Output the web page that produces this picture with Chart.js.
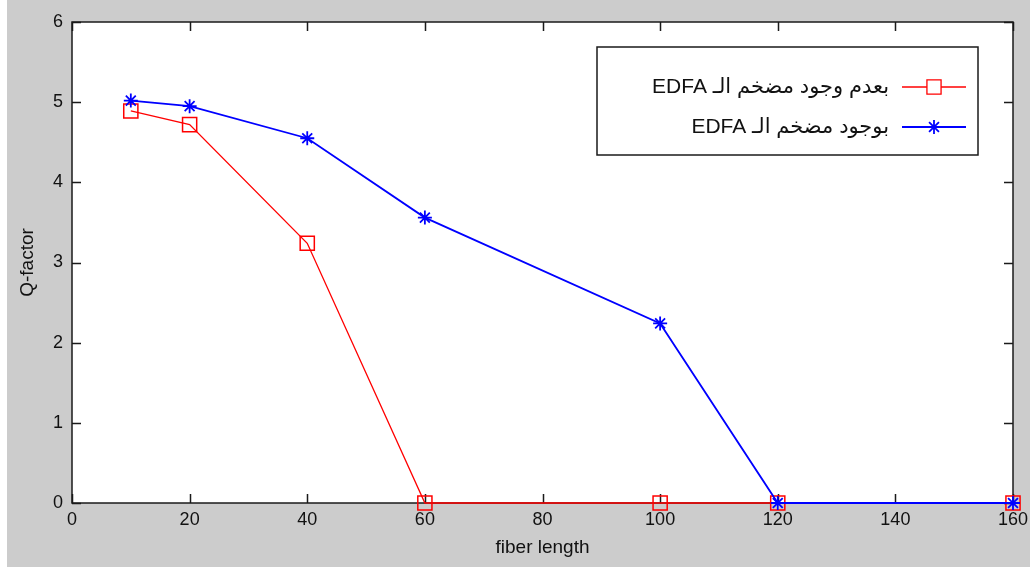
<!DOCTYPE html>
<html>
<head>
<meta charset="utf-8">
<script src="https://cdn.jsdelivr.net/npm/chart.js@4.4.0/dist/chart.umd.min.js"></script>
<style>
  html, body { margin: 0; padding: 0; background: #cccccc; }
  canvas { display: block; }
</style>
</head>
<body>
<canvas id="chart" width="1030" height="567"></canvas>
<script>
// data
const fiberLength = [10, 20, 40, 60, 100, 120, 160];
const qWithoutEdfa = [4.89, 4.72, 3.24, 0, 0, 0, 0];
const qWithEdfa = [5.02, 4.95, 4.55, 3.56, 2.24, 0, 0];
const xTicks = [0, 20, 40, 60, 80, 100, 120, 140, 160];
const yTicks = [0, 1, 2, 3, 4, 5, 6];
const seriesLabels = ['بعدم وجود مضخم الـ EDFA', 'بوجود مضخم الـ EDFA'];

const toPoints = (ys) => fiberLength.map((x, i) => ({ x: x, y: ys[i] }));

// gray figure, white axes area
const background = {
    id: 'background',
    beforeDraw(chart) {
        const { ctx, chartArea: a, width, height } = chart;
        ctx.save();
        ctx.fillStyle = '#cccccc';
        ctx.fillRect(0, 0, width, height);
        ctx.fillStyle = '#ffffff';
        ctx.fillRect(0, 0, 7, height);
        ctx.fillRect(a.left, a.top, a.right - a.left, a.bottom - a.top);
        ctx.restore();
    }
};

// matlab style box with inward ticks on all sides
const axesBox = {
    id: 'axesBox',
    beforeDatasetsDraw(chart) {
        const { ctx, chartArea: a, scales } = chart;
        const len = 9;
        ctx.save();
        ctx.strokeStyle = '#1a1a1a';
        ctx.lineWidth = 1.5;
        ctx.beginPath();
        xTicks.forEach(v => {
            const px = Math.round(scales.x.getPixelForValue(v)) + 0.5;
            ctx.moveTo(px, a.bottom); ctx.lineTo(px, a.bottom - len);
            ctx.moveTo(px, a.top); ctx.lineTo(px, a.top + len);
        });
        yTicks.forEach(v => {
            const py = Math.round(scales.y.getPixelForValue(v)) + 0.5;
            ctx.moveTo(a.left, py); ctx.lineTo(a.left + len, py);
            ctx.moveTo(a.right, py); ctx.lineTo(a.right - len, py);
        });
        ctx.stroke();
        ctx.strokeRect(a.left, a.top, a.right - a.left, a.bottom - a.top);
        ctx.restore();
    }
};

// legend box drawn by hand, top right inside the axes
const boxLegend = {
    id: 'boxLegend',
    afterDraw(chart) {
        const { ctx } = chart;
        const box = { left: 597, top: 47, right: 978, bottom: 155 };
        const rows = [87, 127];
        const legendOrder = [0, 1];
        ctx.save();
        ctx.fillStyle = '#ffffff';
        ctx.fillRect(box.left, box.top, box.right - box.left, box.bottom - box.top);
        ctx.strokeStyle = '#1a1a1a';
        ctx.lineWidth = 1.5;
        ctx.strokeRect(box.left, box.top, box.right - box.left, box.bottom - box.top);
        legendOrder.forEach((di, r) => {
            const ds = chart.data.datasets[di];
            const y = rows[r];
            ctx.strokeStyle = ds.borderColor;
            ctx.lineWidth = ds.borderWidth;
            ctx.beginPath();
            ctx.moveTo(902, y); ctx.lineTo(966, y);
            ctx.stroke();
            Chart.helpers.drawPoint(ctx, {
                pointStyle: ds.pointStyle,
                radius: ds.pointRadius,
                borderWidth: ds.pointBorderWidth
            }, 934, y);
            ctx.fillStyle = '#111111';
            ctx.font = '21px "Liberation Sans", "DejaVu Sans", sans-serif';
            ctx.direction = 'rtl';
            ctx.textAlign = 'right';
            ctx.textBaseline = 'middle';
            ctx.fillText(ds.label, 889, y);
        });
        ctx.restore();
    }
};

const ctx = document.getElementById('chart').getContext('2d');
const qChart = new Chart(ctx, {
    type: 'line',
    data: {
        datasets: [{
            label: seriesLabels[0],
            data: toPoints(qWithoutEdfa),
            borderColor: '#ff0000',
            backgroundColor: 'rgba(0,0,0,0)',
            borderWidth: 1.3,
            pointStyle: 'rect',
            pointRadius: 10,
            pointHoverRadius: 10,
            pointBorderWidth: 1.5,
            pointBorderColor: '#ff0000',
            pointBackgroundColor: 'rgba(0,0,0,0)',
            tension: 0,
            clip: false,
            order: 1
        }, {
            label: seriesLabels[1],
            data: toPoints(qWithEdfa),
            borderColor: '#0000ff',
            backgroundColor: 'rgba(0,0,0,0)',
            borderWidth: 1.8,
            pointStyle: 'star',
            pointRadius: 7,
            pointHoverRadius: 7,
            pointBorderWidth: 1.8,
            pointBorderColor: '#0000ff',
            pointBackgroundColor: '#0000ff',
            tension: 0,
            clip: false,
            order: 0
        }]
    },
    options: {
        responsive: false,
        animation: false,
        devicePixelRatio: 1,
        layout: { padding: { top: 22, right: 17, left: 0, bottom: 0 } },
        plugins: {
            legend: { display: false },
            tooltip: { enabled: false }
        },
        scales: {
            x: {
                type: 'linear',
                min: 0,
                max: 160,
                afterFit(scale) {
                    scale.height = 64;
                    scale.paddingLeft = 0;
                    scale.paddingRight = 0;
                },
                afterBuildTicks(scale) { scale.ticks = xTicks.map(v => ({ value: v })); },
                grid: { display: false, drawTicks: false },
                border: { display: false },
                ticks: {
                    color: '#111111',
                    padding: 6,
                    maxRotation: 0,
                    autoSkip: false,
                    font: { family: '"Liberation Sans", Arial, sans-serif', size: 18 }
                },
                title: {
                    display: true,
                    text: 'fiber length',
                    color: '#111111',
                    padding: { top: 0, bottom: 8 },
                    font: { family: '"Liberation Sans", Arial, sans-serif', size: 19 }
                }
            },
            y: {
                type: 'linear',
                min: 0,
                max: 6,
                afterFit(scale) { scale.width = 72; },
                afterBuildTicks(scale) { scale.ticks = yTicks.map(v => ({ value: v })); },
                grid: { display: false, drawTicks: false },
                border: { display: false },
                ticks: {
                    color: '#111111',
                    padding: 9,
                    font: { family: '"Liberation Sans", Arial, sans-serif', size: 18 }
                },
                title: {
                    display: true,
                    text: 'Q-factor',
                    color: '#111111',
                    padding: { top: 16, bottom: 0 },
                    font: { family: '"Liberation Sans", Arial, sans-serif', size: 19 }
                }
            }
        }
    },
    plugins: [background, axesBox, boxLegend]
});
</script>
</body>
</html>
